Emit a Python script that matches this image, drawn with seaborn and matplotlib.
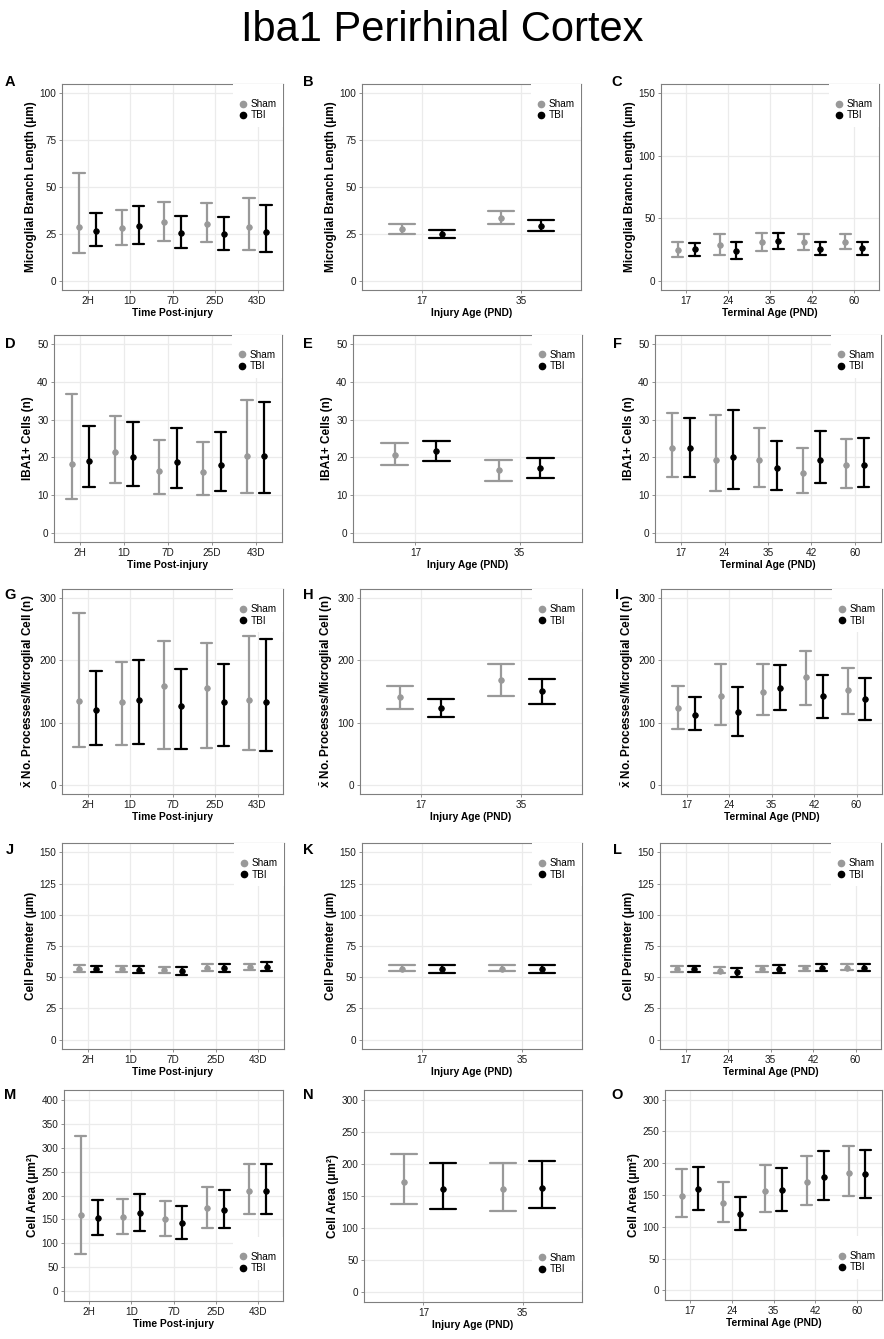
import matplotlib
matplotlib.use("Agg")
import matplotlib.pyplot as plt
from matplotlib.lines import Line2D
from matplotlib import font_manager
import pandas as pd
import seaborn as sns

# Categories on the x axis
time_cats = ["2H", "1D", "7D", "25D", "43D"]
injury_cats = ["17", "35"]
terminal_cats = ["17", "24", "35", "42", "60"]
groups = ["Sham", "TBI"]

# Values, each tuple is (mean, lower, upper)
a_sham = [(28.8, 14.7, 57.7), (28.0, 18.8, 37.9), (31.2, 21.1, 42.1), (30.3, 20.4, 41.4), (28.8, 16.6, 44.2)]
a_tbi = [(26.5, 18.6, 36.3), (29.2, 19.8, 39.8), (25.3, 17.2, 34.5), (24.8, 16.5, 34.2), (25.8, 15.4, 40.4)]
b_sham = [(27.4, 25.0, 30.4), (33.6, 30.1, 37.0)]
b_tbi = [(24.8, 22.7, 27.1), (29.4, 26.5, 32.2)]
c_sham = [(24.7, 18.6, 31.1), (28.4, 20.4, 37.2), (31.1, 23.6, 38.5), (31.1, 24.7, 37.4), (31.1, 25.0, 37.2)]
c_tbi = [(25.0, 19.9, 30.3), (23.9, 17.5, 31.1), (31.9, 25.5, 38.2), (25.5, 20.2, 30.8), (26.0, 20.4, 31.3)]
d_sham = [(18.3, 8.9, 36.8), (21.3, 13.1, 31.1), (16.3, 10.3, 24.5), (16.2, 10.0, 24.2), (20.4, 10.6, 35.1)]
d_tbi = [(19.1, 12.2, 28.2), (20.1, 12.4, 29.4), (18.8, 11.8, 27.8), (17.9, 11.1, 26.8), (20.4, 10.4, 34.8)]
e_sham = [(20.6, 17.9, 23.7), (16.5, 13.7, 19.4)]
e_tbi = [(21.6, 19.0, 24.3), (17.1, 14.6, 19.7)]
f_sham = [(22.6, 14.8, 31.7), (19.4, 11.0, 31.2), (19.3, 12.1, 27.8), (15.8, 10.6, 22.6), (17.9, 11.9, 24.8)]
f_tbi = [(22.6, 14.9, 30.4), (20.2, 11.7, 32.6), (17.1, 11.2, 24.3), (19.3, 13.1, 27.0), (17.9, 12.1, 25.2)]
g_sham = [(135.4, 60.0, 276.0), (133.8, 64.3, 197.0), (158.3, 57.4, 231.0), (155.0, 59.5, 227.3), (137.0, 56.3, 240.0)]
g_tbi = [(120.6, 64.3, 182.2), (136.0, 65.3, 200.2), (127.0, 57.4, 185.9), (132.8, 62.1, 193.8), (132.8, 54.7, 234.2)]
h_sham = [(140.7, 121.1, 158.3), (168.3, 143.4, 194.4)]
h_tbi = [(123.7, 108.8, 138.1), (150.3, 130.6, 169.9)]
i_sham = [(123.2, 90.3, 159.3), (142.3, 95.6, 194.4), (149.8, 111.5, 193.8), (173.7, 129.0, 215.1), (152.4, 114.2, 188.0)]
i_tbi = [(112.6, 88.7, 141.8), (116.8, 78.6, 156.7), (155.6, 119.5, 192.8), (142.9, 106.7, 176.8), (138.1, 104.1, 171.5)]
j_sham = [(56.8, 54.2, 59.5), (56.6, 53.9, 59.2), (55.7, 53.4, 58.4), (57.6, 54.9, 60.3), (58.4, 55.7, 60.8)]
j_tbi = [(56.6, 53.9, 59.2), (56.0, 53.4, 58.9), (54.7, 52.0, 57.9), (57.1, 54.2, 60.3), (58.1, 54.9, 62.1)]
k_sham = [(56.6, 54.7, 59.7), (56.6, 54.7, 59.7)]
k_tbi = [(56.6, 53.6, 59.5), (56.6, 53.4, 59.7)]
l_sham = [(56.8, 54.4, 58.9), (55.2, 53.1, 58.1), (56.6, 54.2, 58.9), (57.1, 54.9, 59.2), (57.6, 55.5, 60.3)]
l_tbi = [(56.3, 53.9, 58.7), (53.9, 50.2, 57.1), (56.6, 53.4, 59.5), (57.6, 54.9, 60.3), (57.6, 54.9, 60.3)]
m_sham = [(159.1, 77.4, 324.0), (155.6, 120.1, 193.3), (150.6, 115.1, 189.0), (173.4, 132.9, 218.1), (208.9, 160.6, 265.0)]
m_tbi = [(152.8, 117.2, 190.4), (162.7, 125.8, 203.2), (142.8, 109.4, 178.3), (170.5, 132.2, 211.7), (209.6, 161.3, 265.7)]
n_sham = [(172.3, 137.7, 215.7), (160.2, 126.7, 202.0)]
n_tbi = [(161.3, 129.8, 202.0), (162.8, 130.9, 205.2)]
o_sham = [(148.7, 114.7, 191.2), (137.0, 107.3, 170.5), (156.1, 122.7, 197.0), (169.9, 134.9, 211.4), (185.3, 148.2, 227.3)]
o_tbi = [(158.8, 126.9, 194.4), (119.5, 95.1, 147.6), (157.2, 125.3, 192.2), (177.9, 142.3, 218.8), (182.7, 145.5, 221.5)]

# Axis labels per row / column
row_ylabels = ["Microglial Branch Length (μm)", "IBA1+ Cells (n)",
               r"$\bar{\mathbf{x}}$ No. Processes/Microglial Cell (n)", "Cell Perimeter (μm)",
               "Cell Area (μm²)"]
col_xlabels = ["Time Post-injury", "Injury Age (PND)", "Terminal Age (PND)"]
col_cats = [time_cats, injury_cats, terminal_cats]

palette = {"Sham": "#999999", "TBI": "#000000"}

W, H = 884, 1339

# letter, data, y ticks, y limits, axes box in pixels (left, top, right, bottom), legend at top?
panels = [
    ("A", a_sham, a_tbi, [0, 25, 50, 75, 100], (-5, 105), (62, 84, 283, 290), True),
    ("B", b_sham, b_tbi, [0, 25, 50, 75, 100], (-5, 105), (362, 84, 581, 290), True),
    ("C", c_sham, c_tbi, [0, 50, 100, 150], (-7.5, 157.5), (661, 84, 879, 290), True),
    ("D", d_sham, d_tbi, [0, 10, 20, 30, 40, 50], (-2.5, 52.5), (54, 335, 282, 542), True),
    ("E", e_sham, e_tbi, [0, 10, 20, 30, 40, 50], (-2.5, 52.5), (353, 335, 582, 542), True),
    ("F", f_sham, f_tbi, [0, 10, 20, 30, 40, 50], (-2.5, 52.5), (655, 335, 881, 542), True),
    ("G", g_sham, g_tbi, [0, 100, 200, 300], (-15, 315), (62, 589, 283, 794), True),
    ("H", h_sham, h_tbi, [0, 100, 200, 300], (-15, 315), (360, 589, 582, 794), True),
    ("I", i_sham, i_tbi, [0, 100, 200, 300], (-15, 315), (661, 589, 882, 794), True),
    ("J", j_sham, j_tbi, [0, 25, 50, 75, 100, 125, 150], (-7.5, 157.5), (62, 843, 284, 1049), True),
    ("K", k_sham, k_tbi, [0, 25, 50, 75, 100, 125, 150], (-7.5, 157.5), (362, 843, 582, 1049), True),
    ("L", l_sham, l_tbi, [0, 25, 50, 75, 100, 125, 150], (-7.5, 157.5), (660, 843, 881, 1049), True),
    ("M", m_sham, m_tbi, list(range(0, 401, 50)), (-20, 420), (64, 1090, 283, 1301), False),
    ("N", n_sham, n_tbi, list(range(0, 301, 50)), (-15, 315), (364, 1090, 582, 1302), False),
    ("O", o_sham, o_tbi, list(range(0, 301, 50)), (-15, 315), (665, 1090, 882, 1300), False),
]
letter_x = [10, 308, 617]
letter_y = [82, 344, 595, 850, 1095]


def to_long(cats, sham, tbi):
    # three rows per point: lower, mean, upper -> median gives the mean, min/max the interval
    rows = []
    for grp, vals in zip(groups, (sham, tbi)):
        for cat, (mean, lo, hi) in zip(cats, vals):
            for v in (lo, mean, hi):
                rows.append({"cat": cat, "group": grp, "value": v})
    return pd.DataFrame(rows)


sns.set_theme(style="whitegrid")
plt.rcParams.update({
    "font.family": ["Liberation Sans", "DejaVu Sans"],
    "mathtext.fontset": "custom",
    "mathtext.rm": "Liberation Sans",
    "mathtext.it": "Liberation Sans:italic",
    "mathtext.bf": "Liberation Sans:bold",
    "text.color": "black",
    "axes.labelcolor": "black",
    "axes.edgecolor": "#7f7f7f",
    "axes.linewidth": 0.8,
    "grid.color": "#ebebeb",
    "grid.linewidth": 0.9,
    "xtick.bottom": True,
    "ytick.left": True,
    "xtick.color": "#7f7f7f",
    "ytick.color": "#7f7f7f",
    "xtick.labelcolor": "#1a1a1a",
    "ytick.labelcolor": "#1a1a1a",
    "xtick.major.size": 2.5,
    "ytick.major.size": 2.5,
    "xtick.major.width": 0.6,
    "ytick.major.width": 0.6,
    "xtick.major.pad": 1.5,
    "ytick.major.pad": 1.5,
    "xtick.labelsize": 7.2,
    "ytick.labelsize": 7.2,
})

fig = plt.figure(figsize=(W / 100, H / 100), dpi=100)

names = {f.name for f in font_manager.fontManager.ttflist}
if "Liberation Sans Narrow" in names:
    fig.text(0.5, 1 - 41 / H, "Iba1 Perirhinal Cortex", ha="center", va="baseline",
             fontsize=35, family=["Liberation Sans Narrow", "Liberation Sans"])
else:
    fig.text(0.5, 1 - 41 / H, "Iba1 Perirhinal Cortex", ha="center", va="baseline", fontsize=30)

for idx, (letter, sham, tbi, yticks, ylim, box, legend_top) in enumerate(panels):
    row, col = divmod(idx, 3)
    cats = col_cats[col]
    left, top, right, bottom = box
    ax = fig.add_axes([left / W, 1 - bottom / H, (right - left) / W, (bottom - top) / H])

    df = to_long(cats, sham, tbi)
    sns.pointplot(data=df, x="cat", y="value", hue="group", order=cats, hue_order=groups,
                  palette=palette, estimator="median", errorbar=lambda v: (v.min(), v.max()),
                  dodge=0.4, capsize=0.26, linestyle="none", markers="o", markersize=4,
                  markeredgewidth=0.6, err_kws={"linewidth": 1.6}, legend=False, ax=ax)

    ax.set_xlim(-0.6, len(cats) - 0.4)
    ax.set_ylim(*ylim)
    ax.set_yticks(yticks)
    ax.set_axisbelow(True)
    ax.grid(True, color="#ebebeb", linewidth=0.9)
    for sp in ax.spines.values():
        sp.set_color("#7f7f7f")
        sp.set_linewidth(0.8)
    ax.set_ylabel(row_ylabels[row], fontsize=8.5, fontweight="bold", labelpad=2)
    ax.set_xlabel(col_xlabels[col], fontsize=7.4, fontweight="bold", labelpad=2)

    handles = [Line2D([], [], marker="o", linestyle="none", color=palette[g], markersize=4.5)
               for g in groups]
    if legend_top:
        loc, anchor = "upper right", (1, 1)
    else:
        loc, anchor = "lower right", (1, 0.1)
    ax.legend(handles, groups, loc=loc, bbox_to_anchor=anchor, borderaxespad=0,
              title=" ", title_fontsize=6, fontsize=7.2, handlelength=0.7,
              handletextpad=0.35, labelspacing=0.15, borderpad=0.65, frameon=True,
              facecolor="white", edgecolor="none", framealpha=1, fancybox=False)

    fig.text(letter_x[col] / W, 1 - letter_y[row] / H, letter, ha="center", va="center",
             fontsize=10.5, fontweight="bold")

fig.savefig("out.png", dpi=100)
